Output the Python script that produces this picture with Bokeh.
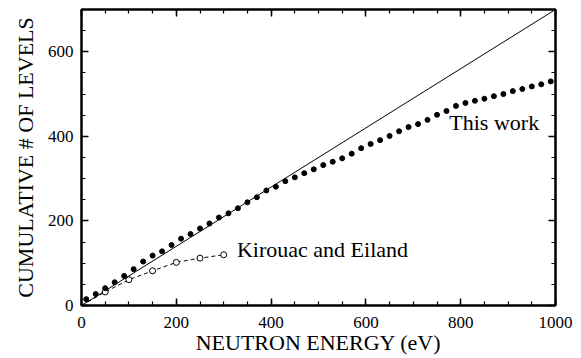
from bokeh.plotting import figure
from bokeh.models import Label, LinearAxis, SingleIntervalTicker, Range1d
from bokeh.embed import file_html
from bokeh.resources import INLINE

# "This work" cumulative level counts
tw_energy = [10, 30, 50, 70, 90, 110, 130, 150, 170, 190, 210, 230, 250, 270, 290,
             310, 330, 350, 370, 390, 410, 430, 450, 470, 490, 510, 530, 550, 570, 590,
             610, 630, 650, 670, 690, 710, 730, 750, 770, 790, 810, 830, 850, 870, 890,
             910, 930, 950, 970, 990]
tw_levels = [15, 27, 41, 55, 70, 86, 104, 118, 128, 143, 158, 169, 182, 194, 208,
             218, 230, 244, 256, 272, 281, 294, 303, 313, 322, 332, 340, 348, 359, 372,
             382, 391, 401, 412, 422, 429, 439, 451, 460, 472, 479, 484, 489, 495, 500,
             507, 512, 518, 523, 530]

# Kirouac and Eiland
ke_energy = [50, 100, 150, 200, 250, 300]
ke_levels = [32, 61, 82, 102, 112, 120]

# reference straight line
ref_energy = [0, 1000]
ref_levels = [0, 700]

FONT = "Liberation Serif"

p = figure(width=581, height=358, output_backend="svg", toolbar_location=None,
           x_range=Range1d(0, 1000), y_range=Range1d(0, 700),
           min_border_left=81, min_border_right=26, min_border_top=9, min_border_bottom=53,
           x_axis_label="NEUTRON ENERGY (eV)", y_axis_label="CUMULATIVE # OF LEVELS")
p.grid.visible = False
p.outline_line_color = "black"
p.outline_line_width = 2
p.background_fill_color = "white"
p.border_fill_color = "white"

xb = p.below[0]
yl = p.left[0]

xt = SingleIntervalTicker(interval=200, num_minor_ticks=4)
yt = SingleIntervalTicker(interval=200, num_minor_ticks=4)
xb.ticker = xt
yl.ticker = yt

top = LinearAxis(ticker=xt, major_label_text_alpha=0.0, major_label_text_font_size="1px",
                 major_label_standoff=0)
right = LinearAxis(ticker=yt, major_label_text_alpha=0.0, major_label_text_font_size="1px",
                   major_label_standoff=0)
p.add_layout(top, "above")
p.add_layout(right, "right")

for ax in [xb, yl, top, right]:
    ax.axis_line_width = 2
    ax.axis_line_color = "black"
    ax.major_tick_in = 7
    ax.major_tick_out = 0
    ax.minor_tick_in = 4
    ax.minor_tick_out = 0
    ax.major_tick_line_width = 1.5
    ax.minor_tick_line_width = 1.2
    ax.major_tick_line_color = "black"
    ax.minor_tick_line_color = "black"

for ax in [xb, yl]:
    ax.major_label_text_font = FONT
    ax.major_label_text_font_size = "17px"
    ax.major_label_text_color = "black"
    ax.axis_label_text_font = FONT
    ax.axis_label_text_font_style = "normal"
    ax.axis_label_text_font_size = "22px"
    ax.axis_label_text_color = "black"

xb.major_label_standoff = 11
yl.major_label_standoff = 8
xb.axis_label_standoff = -1
yl.axis_label_standoff = 7

p.line(ref_energy, ref_levels, line_color="black", line_width=1)
p.line([0] + ke_energy, [0] + ke_levels, line_color="black", line_width=1, line_dash="4 3")
p.scatter(ke_energy, ke_levels, size=6, marker="circle", fill_color="white",
          line_color="black", line_width=1)
p.scatter(tw_energy, tw_levels, size=5, marker="circle", fill_color="black",
          line_color="black")

p.add_layout(Label(x=328, y=110, y_offset=9, text="Kirouac and Eiland", text_font=FONT,
                   text_font_size="22px", text_color="black", text_baseline="alphabetic"))
p.add_layout(Label(x=776, y=411, y_offset=9, text="This work", text_font=FONT,
                   text_font_size="22px", text_color="black", text_baseline="alphabetic"))

open("out.html", "w").write(file_html(p, INLINE))
